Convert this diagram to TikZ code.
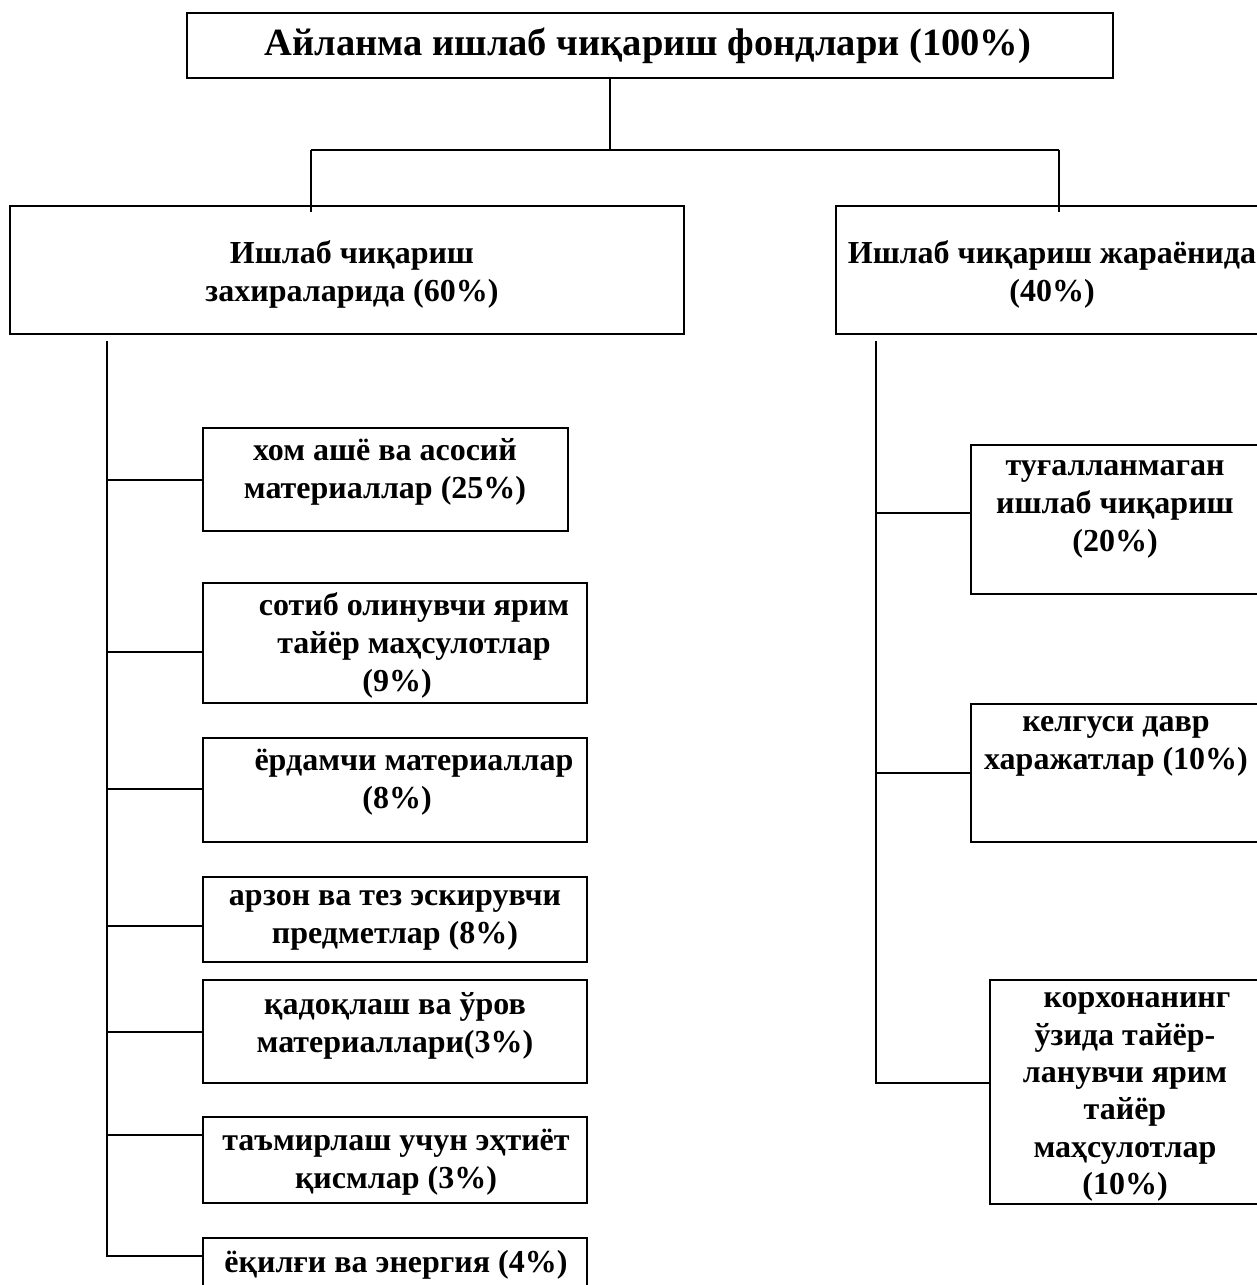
\documentclass[tikz,border=0pt]{standalone}
\usepackage{fontspec}
\setmainfont{Liberation Serif}
\begin{document}
\begin{tikzpicture}[x=1pt,y=-1pt,
  box/.style={draw, line width=2.4pt, inner sep=0pt, rectangle},
  txt/.style={font=\fontsize{32}{38}\selectfont\bfseries, align=center, inner sep=0pt},
  bigtxt/.style={font=\fontsize{38.5}{42}\selectfont\bfseries, align=center, inner sep=0pt},
  conn/.style={line width=2pt}]
\useasboundingbox (0,0) rectangle (1256,1285);

% top level
\node[box, minimum width=926pt, minimum height=65pt] (top) at (650,45.5) {};
\node[bigtxt] (tt) at (648,46) {Айланма ишлаб чиқариш фондлари (100\%)};
\node[box, minimum width=674pt, minimum height=128pt] (left) at (347,270) {};
\node[txt] (lt0) at (352,274) {Ишлаб чиқариш\\захираларида (60\%)};
\node[box, minimum width=426pt, minimum height=128pt] (right) at (1049,270) {};
\node[txt] (rt0) at (1052,274) {Ишлаб чиқариш жараёнида\\(40\%)};

% left sub-boxes
\node[box, minimum width=365pt, minimum height=103pt] (b1) at (385.5,479.5) {};
\node[box, minimum width=384pt, minimum height=120pt] (b2) at (395,643) {};
\node[box, minimum width=384pt, minimum height=104pt] (b3) at (395,790) {};
\node[box, minimum width=384pt, minimum height=85pt] (b4) at (395,919.5) {};
\node[box, minimum width=384pt, minimum height=103pt] (b5) at (395,1031.5) {};
\node[box, minimum width=384pt, minimum height=86pt] (b6) at (395,1160) {};
\node[box, minimum width=384pt, minimum height=62pt] (b7) at (395,1269) {};

\node[txt] (t1) at (385,472) {хом ашё ва асосий\\материаллар (25\%)};
\node[txt] (t2) at (397,645) {\hspace*{34pt}сотиб олинувчи ярим\\\hspace*{34pt}тайёр маҳсулотлар\\(9\%)};
\node[txt] (t3) at (397,782) {\hspace*{34pt}ёрдамчи материаллар\\(8\%)};
\node[txt] (t4) at (395,920) {арзон ва тез эскирувчи\\предметлар (8\%)};
\node[txt] (t5) at (395,1026) {қадоқлаш ва ўров\\материаллари(3\%)};
\node[txt] (t6) at (396,1162) {таъмирлаш учун эҳтиёт\\қисмлар (3\%)};
\node[txt] (t7) at (396,1265) {ёқилғи ва энергия (4\%)};

% right sub-boxes
\node[box, minimum width=288pt, minimum height=149pt] (r1) at (1115,519.5) {};
\node[box, minimum width=288pt, minimum height=138pt] (r2) at (1115,773) {};
\node[box, minimum width=269pt, minimum height=224pt] (r3) at (1124.5,1092) {};

\node[txt] (s1) at (1115,509) {туғалланмаган\\ишлаб чиқариш\\(20\%)};
\node[txt] (s2) at (1116,746) {келгуси давр\\харажатлар (10\%)};
\node[font=\fontsize{32}{37.4}\selectfont\bfseries, align=center, inner sep=0pt] (s3) at (1125,1097) {\hspace*{24pt}корхонанинг\\ўзида тайёр-\\ланувчи ярим\\тайёр\\маҳсулотлар\\(10\%)};

% connectors top
\coordinate (hub) at (610,150);
\coordinate (hl) at (311,150);
\coordinate (hr) at (1059,150);
\draw[conn] (hub |- top.south) -- (hub);
\draw[conn] (hl) -- (hr);
\draw[conn] (hl) -- ([yshift=-7pt]hl |- left.north);
\draw[conn] (hr) -- ([yshift=-7pt]hr |- right.north);

% left trunk
\coordinate (lt) at (107,341);
\coordinate (lb) at (107,1256);
\coordinate (a1) at (107,480);
\coordinate (a2) at (107,652);
\coordinate (a3) at (107,789);
\coordinate (a4) at (107,926);
\coordinate (a5) at (107,1032);
\coordinate (a6) at (107,1135);
\draw[conn] (lt) -- (lb) -- (lb -| b7.west);
\draw[conn] (a1) -- (a1 -| b1.west);
\draw[conn] (a2) -- (a2 -| b2.west);
\draw[conn] (a3) -- (a3 -| b3.west);
\draw[conn] (a4) -- (a4 -| b4.west);
\draw[conn] (a5) -- (a5 -| b5.west);
\draw[conn] (a6) -- (a6 -| b6.west);

% right trunk
\coordinate (rt) at (876,341);
\coordinate (rb) at (876,1083);
\coordinate (c1) at (876,513);
\coordinate (c2) at (876,773);
\draw[conn] (rt) -- (rb) -- (rb -| r3.west);
\draw[conn] (c1) -- (c1 -| r1.west);
\draw[conn] (c2) -- (c2 -| r2.west);
\end{tikzpicture}
\end{document}
